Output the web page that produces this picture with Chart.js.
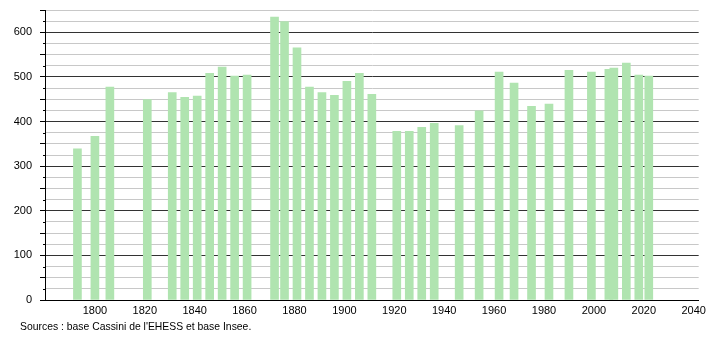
<!DOCTYPE html>
<html>
<head>
<meta charset="utf-8">
<script src="https://cdn.jsdelivr.net/npm/chart.js@4/dist/chart.umd.min.js"></script>
<style>
  body { margin: 0; background: #fff; }
  #wrap { position: relative; width: 710px; height: 340px; }
  #src { position: absolute; left: 20px; top: 321px; font: 10.4px "Liberation Sans", Arial, sans-serif; color: #000; }
</style>
</head>
<body>
<div id="wrap">
  <canvas id="chart" width="710" height="340"></canvas>
  <div id="src">Sources : base Cassini de l'EHESS et base Insee.</div>
</div>
<script>
// annees de recensement et population
var annees = [1793, 1800, 1806, 1821, 1831, 1836, 1841, 1846, 1851, 1856, 1861,
  1872, 1876, 1881, 1886, 1891, 1896, 1901, 1906, 1911,
  1921, 1926, 1931, 1936, 1946, 1954, 1962, 1968, 1975, 1982, 1990, 1999,
  2006, 2008, 2013, 2018, 2022];
var habitants = [339, 367, 477, 449, 465, 454, 457, 508, 522, 502, 504,
  634, 624, 565, 477, 465, 459, 490, 508, 461,
  378, 378, 387, 396, 391, 424, 511, 486, 434, 439, 515, 511,
  517, 520, 531, 504, 502];
var xTicks = [1800, 1820, 1840, 1860, 1880, 1900, 1920, 1940, 1960, 1980, 2000, 2020, 2040];

var points = [];
for (var i = 0; i < annees.length; i++) {
  points.push({x: annees[i], y: habitants[i]});
}

var police = 'Liberation Sans';

// petites graduations sur l'axe y (tous les 25)
var petitesGrad = {
  id: 'petitesGrad',
  afterDraw: function(chart) {
    var y = chart.scales.y;
    var c = chart.ctx;
    c.save();
    c.strokeStyle = '#000';
    c.lineWidth = 1;
    c.beginPath();
    for (var v = 25; v <= 650; v += 50) {
      var py = Math.round(y.getPixelForValue(v)) + 0.5;
      c.moveTo(y.right - 2, py);
      c.lineTo(y.right, py);
    }
    c.stroke();
    c.restore();
  }
};

var ctx = document.getElementById('chart').getContext('2d');
var myChart = new Chart(ctx, {
  type: 'bar',
  data: {
    datasets: [{
      data: points,
      backgroundColor: '#b0e4b0',
      borderWidth: 0,
      barThickness: 8
    }]
  },
  plugins: [petitesGrad],
  options: {
    responsive: false,
    animation: false,
    layout: { padding: { top: 10, right: 9, left: 1, bottom: 0 } },
    plugins: { legend: { display: false }, tooltip: { enabled: false } },
    scales: {
      x: {
        type: 'linear',
        offset: false,
        min: 1780,
        max: 2042,
        afterBuildTicks: function(s) {
          s.ticks = xTicks.map(function(v) { return {value: v}; });
        },
        afterFit: function(s) { s.height = 40; },
        ticks: {
          color: '#000',
          font: { family: police, size: 11 },
          padding: 4,
          maxRotation: 0,
          callback: function(v) { return v; }
        },
        grid: { display: false, drawTicks: false },
        border: { color: '#000', width: 1 }
      },
      y: {
        min: 0,
        max: 650,
        afterBuildTicks: function(s) {
          var t = [];
          for (var v = 0; v <= 650; v += 25) t.push({value: v});
          s.ticks = t;
        },
        afterFit: function(s) {
          s.width = 44;
          s.paddingTop = 0;
          s.paddingBottom = 0;
        },
        ticks: {
          color: '#000',
          font: { family: police, size: 11 },
          padding: 8,
          autoSkip: false,
          callback: function(v) { return v % 100 === 0 ? v : ''; }
        },
        grid: {
          color: function(c) { return c.tick && c.tick.value % 100 === 0 ? '#333' : '#c8c8c8'; },
          tickColor: function(c) { return c.tick && c.tick.value % 50 === 0 ? '#000' : 'rgba(0,0,0,0)'; },
          tickLength: 5,
          lineWidth: 1
        },
        border: { color: '#000', width: 1 }
      }
    }
  }
});
</script>
</body>
</html>
